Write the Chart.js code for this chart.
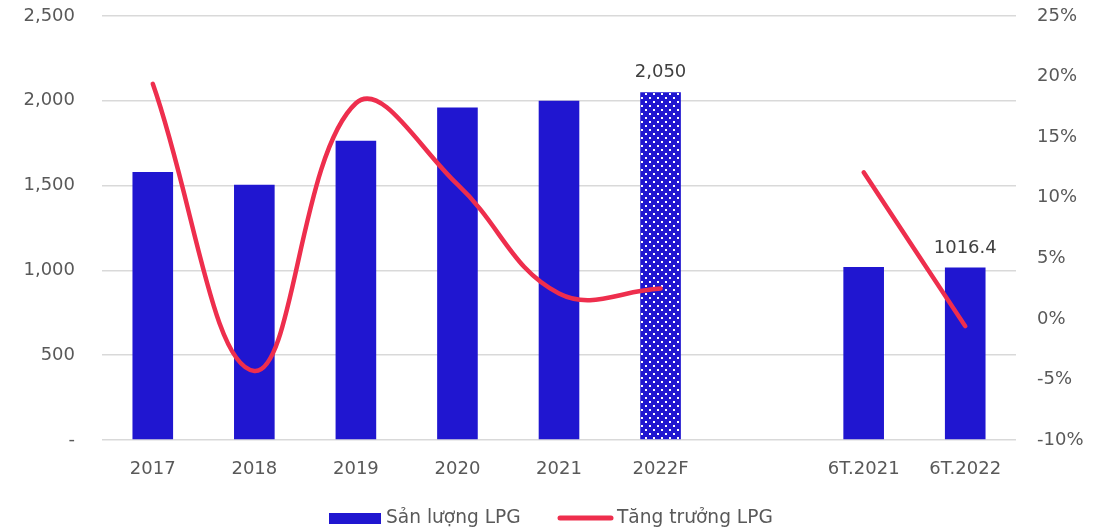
<!DOCTYPE html>
<html>
<head>
<meta charset="utf-8">
<script src="https://cdn.jsdelivr.net/npm/chart.js@4/dist/chart.umd.min.js"></script>
<style>
  html, body { margin: 0; padding: 0; background: #ffffff; }
  #wrap { width: 1112px; height: 529px; }
</style>
</head>
<body>
<div id="wrap"><canvas id="c" width="1112" height="529"></canvas></div>
<script>
// Categories (an empty slot separates the yearly and half-year groups)
const categories = ['2017', '2018', '2019', '2020', '2021', '2022F', '', '6T.2021', '6T.2022'];
// LPG output (bars, left axis)
const outputLPG = [1580, 1505, 1765, 1960, 2000, 2050, null, 1020, 1016.4];
// LPG growth in % (line, right axis)
const growthLPG = [19.4, -4.3, 17.8, 11.1, 2.1, 2.5, null, 12.1, -0.6];
// Which bars carry a value label, and how it is written
const labelStyle = [null, null, null, null, null, 'comma', null, null, 'raw'];
// Forecast bars get the dotted fill
const forecast = [false, false, false, false, false, true, false, false, false];

const leftTicks = [0, 500, 1000, 1500, 2000, 2500];
const rightTicks = [-10, -5, 0, 5, 10, 15, 20, 25];

const seriesNames = ['Sản lượng LPG', 'Tăng trưởng LPG'];

const BAR_COLOR = '#2016d0';
const LINE_COLOR = '#ee2e4d';
const TEXT_COLOR = '#595959';
const FONT = '"DejaVu Sans", Verdana, sans-serif';

// Dotted fill for forecast bars
function dotPattern() {
  const t = document.createElement('canvas');
  t.width = 8; t.height = 8;
  const g = t.getContext('2d');
  g.fillStyle = BAR_COLOR;
  g.fillRect(0, 0, 8, 8);
  g.fillStyle = '#ffffff';
  g.fillRect(1, 1, 2, 2);
  g.fillRect(5, 5, 2, 2);
  return g.createPattern(t, 'repeat');
}
const pattern = dotPattern();

const fmtComma = v => Math.round(v).toString().replace(/\B(?=(\d{3})+(?!\d))/g, ',');

// Value labels above selected bars
const barLabels = {
  id: 'barLabels',
  afterDatasetsDraw(chart) {
    const ctx = chart.ctx;
    const meta = chart.getDatasetMeta(0);
    ctx.save();
    ctx.font = '18px ' + FONT;
    ctx.fillStyle = '#404040';
    ctx.textAlign = 'center';
    ctx.textBaseline = 'alphabetic';
    meta.data.forEach((bar, i) => {
      const style = labelStyle[i];
      const v = outputLPG[i];
      if (!style || v == null) return;
      const txt = style === 'comma' ? fmtComma(v) : String(v);
      ctx.fillText(txt, bar.x, bar.y - 15);
    });
    ctx.restore();
  }
};

// Legend row under the axis
const bottomLegend = {
  id: 'bottomLegend',
  afterDraw(chart) {
    const ctx = chart.ctx;
    ctx.save();
    ctx.font = '18.6px ' + FONT;
    ctx.textBaseline = 'middle';
    ctx.textAlign = 'left';
    const y = 518;
    ctx.fillStyle = BAR_COLOR;
    ctx.fillRect(329, 513, 52, 11);
    ctx.fillStyle = TEXT_COLOR;
    ctx.fillText(seriesNames[0], 386, y);
    ctx.strokeStyle = LINE_COLOR;
    ctx.lineWidth = 5;
    ctx.lineCap = 'round';
    ctx.beginPath();
    ctx.moveTo(560, y);
    ctx.lineTo(611, y);
    ctx.stroke();
    ctx.fillText(seriesNames[1], 617, y);
    ctx.restore();
  }
};

// Fixed axis sizes so the plot area sits where intended
const fixVertical = width => s => {
  s.width = width;
  s.paddingTop = 0;
  s.paddingBottom = 0;
};

new Chart(document.getElementById('c'), {
  type: 'bar',
  data: {
    labels: categories,
    datasets: [
      {
        type: 'bar',
        label: seriesNames[0],
        data: outputLPG,
        yAxisID: 'y',
        backgroundColor: outputLPG.map((v, i) => forecast[i] ? pattern : BAR_COLOR),
        borderWidth: 0,
        barPercentage: 0.4,
        categoryPercentage: 1.0,
        order: 2
      },
      {
        type: 'line',
        label: seriesNames[1],
        data: growthLPG,
        yAxisID: 'y1',
        borderColor: LINE_COLOR,
        borderWidth: 4.5,
        borderCapStyle: 'round',
        borderJoinStyle: 'round',
        pointRadius: 0,
        tension: 0.4,
        spanGaps: false,
        fill: false,
        order: 1
      }
    ]
  },
  options: {
    responsive: false,
    animation: false,
    devicePixelRatio: 1,
    layout: { autoPadding: false, padding: { top: 16, left: 0, right: 0, bottom: 0 } },
    plugins: {
      legend: { display: false },
      tooltip: { enabled: false }
    },
    scales: {
      x: {
        offset: true,
        grid: { display: false, drawTicks: false, tickLength: 0 },
        border: { display: false },
        ticks: {
          color: TEXT_COLOR,
          font: { family: FONT, size: 18 },
          padding: 19,
          maxRotation: 0,
          autoSkip: false
        },
        afterFit(s) { s.height = 89; s.paddingLeft = 0; s.paddingRight = 0; }
      },
      y: {
        position: 'left',
        min: 0,
        max: 2500,
        afterBuildTicks(s) { s.ticks = leftTicks.map(v => ({ value: v })); },
        grid: { color: '#d9d9d9', lineWidth: 1.5, drawTicks: false, tickLength: 0 },
        border: { display: false },
        ticks: {
          color: TEXT_COLOR,
          font: { family: FONT, size: 18 },
          padding: 27,
          callback: v => v === 0 ? '-' : fmtComma(v)
        },
        afterFit: fixVertical(102)
      },
      y1: {
        position: 'right',
        min: -10,
        max: 25,
        afterBuildTicks(s) { s.ticks = rightTicks.map(v => ({ value: v })); },
        grid: { display: false, drawTicks: false, tickLength: 0 },
        border: { display: false },
        ticks: {
          color: TEXT_COLOR,
          font: { family: FONT, size: 18 },
          padding: 21,
          callback: v => v + '%'
        },
        afterFit: fixVertical(96)
      }
    }
  },
  plugins: [barLabels, bottomLegend]
});
</script>
</body>
</html>
